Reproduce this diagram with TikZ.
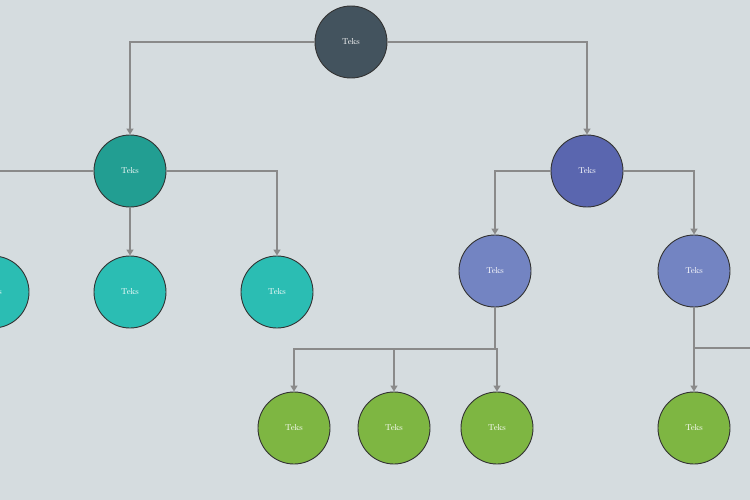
\documentclass[tikz,border=0pt]{standalone}
\usetikzlibrary{arrows.meta}
\definecolor{bg}{HTML}{D5DCDF}
\definecolor{cRoot}{HTML}{43535E}
\definecolor{cTeal}{HTML}{229E92}
\definecolor{cPurple}{HTML}{5A66AF}
\definecolor{cTealL}{HTML}{2BBDB3}
\definecolor{cPurpleL}{HTML}{7384C2}
\definecolor{cGreen}{HTML}{7EB642}
\definecolor{cLine}{HTML}{8A8A8A}
\tikzset{
  circ/.style={circle, draw=black!80, line width=0.9pt, minimum size=72pt, inner sep=0pt,
    text=white, font=\fontsize{8.5}{9}\selectfont},
  conn/.style={draw=cLine, line width=1.4pt, -{Triangle[width=7pt,length=6pt]}},
  plain/.style={draw=cLine, line width=1.4pt}
}
\begin{document}
\begin{tikzpicture}[x=1pt,y=-1pt]
\fill[bg] (0,0) rectangle (750,500);
\useasboundingbox (0,0) rectangle (750,500);
\coordinate (j1) at (495,349);
\coordinate (j2) at (694,348);
\coordinate (offr) at (760,348);

\node[circ, fill=cRoot] (root) at (351,42) {Teks};
\node[circ, fill=cTeal] (teal) at (130,171) {Teks};
\node[circ, fill=cPurple] (pur) at (587,171) {Teks};
\node[circ, fill=cTealL] (t1) at (-7,292) {Teks};
\node[circ, fill=cTealL] (t2) at (130,292) {Teks};
\node[circ, fill=cTealL] (t3) at (277,292) {Teks};
\node[circ, fill=cPurpleL] (lp1) at (495,271) {Teks};
\node[circ, fill=cPurpleL] (lp2) at (694,271) {Teks};
\node[circ, fill=cGreen] (g1) at (294,428) {Teks};
\node[circ, fill=cGreen] (g2) at (394,428) {Teks};
\node[circ, fill=cGreen] (g3) at (497,428) {Teks};
\node[circ, fill=cGreen] (g4) at (694,428) {Teks};

\draw[conn] (root.west) -| (teal.north);
\draw[conn] (root.east) -| (pur.north);
\draw[conn] (teal.west) -| (t1.north);
\draw[conn] (teal.south) -- (t2.north);
\draw[conn] (teal.east) -| (t3.north);
\draw[conn] (pur.west) -| (lp1.north);
\draw[conn] (pur.east) -| (lp2.north);
\draw[plain] (lp1.south) -- (j1);
\draw[conn] (j1) -| (g1.north);
\draw[conn] (j1 -| g2.north) -- (g2.north);
\draw[conn] (j1) -| (g3.north);
\draw[conn] (lp2.south) -- (g4.north);
\draw[plain] (j2) -- (offr);
\end{tikzpicture}
\end{document}
